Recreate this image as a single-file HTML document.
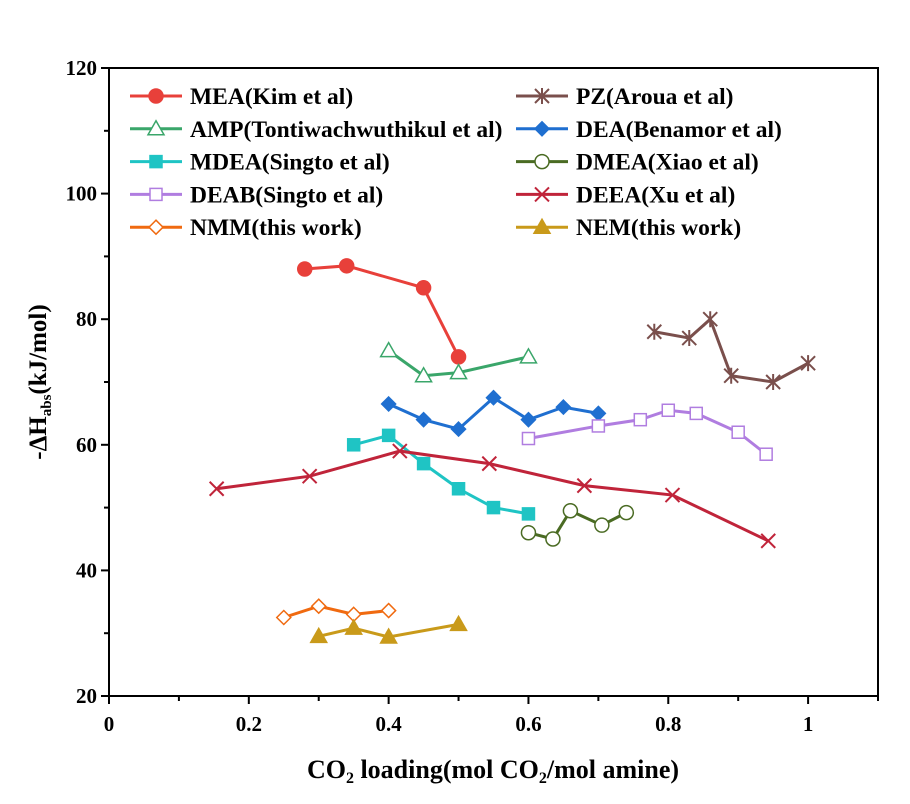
<!DOCTYPE html>
<html><head><meta charset="utf-8"><style>
body{margin:0;background:#fff}
svg text{font-family:"Liberation Serif",serif;font-weight:bold}
</style></head><body>
<svg id="c" width="910" height="799" xmlns="http://www.w3.org/2000/svg"></svg>
<script>
const xTicks=[0,0.2,0.4,0.6,0.8,1];
const xTickLabels=["0","0.2","0.4","0.6","0.8","1"];
const yTicks=[20,40,60,80,100,120];
const yTickLabels=["20","40","60","80","100","120"];
const seriesNames=["MEA(Kim et al)","PZ(Aroua et al)","AMP(Tontiwachwuthikul et al)","DEA(Benamor et al)","MDEA(Singto et al)","DMEA(Xiao et al)","DEAB(Singto et al)","DEEA(Xu et al)","NMM(this work)","NEM(this work)"];
const meaX=[0.28,0.34,0.45,0.5], meaY=[88,88.5,85,74];
const pzX=[0.78,0.83,0.86,0.89,0.95,1.0], pzY=[78,77,80,71,70,73];
const ampX=[0.4,0.45,0.5,0.6], ampY=[75,71,71.5,74];
const deaX=[0.4,0.45,0.5,0.55,0.6,0.65,0.7], deaY=[66.5,64,62.5,67.5,64,66,65];
const mdeaX=[0.35,0.4,0.45,0.5,0.55,0.6], mdeaY=[60,61.5,57,53,50,49];
const dmeaX=[0.6,0.635,0.66,0.705,0.74], dmeaY=[46,45,49.5,47.2,49.2];
const deabX=[0.6,0.7,0.76,0.8,0.84,0.9,0.94], deabY=[61,63,64,65.5,65,62,58.5];
const deeaX=[0.154,0.287,0.416,0.544,0.68,0.806,0.943], deeaY=[53,55,59,57,53.5,52,44.7];
const nmmX=[0.25,0.3,0.35,0.4], nmmY=[32.5,34.3,33,33.6];
const nemX=[0.3,0.35,0.4,0.5], nemY=[29.5,30.8,29.4,31.4];

const X0=109,X1=878,Y0=696,Y1=68;
const sx=v=>X0+v*(X1-X0)/1.1;
const sy=v=>Y0-(v-20)*(Y0-Y1)/100;
const svg=document.getElementById('c');
const NS="http://www.w3.org/2000/svg";
function mk(t,a,p){const e=document.createElementNS(NS,t);for(const k in a)e.setAttribute(k,a[k]);(p||svg).appendChild(e);return e;}

const frame=mk('rect',{x:X0,y:Y1,width:X1-X0,height:Y0-Y1,fill:'none',stroke:'#000','stroke-width':2});


for(let i=0;i<=11;i++){const v=i/10;const x=sx(v);const major=i%2==0;
 const t=mk('line',{x1:x,x2:x,y1:Y0,y2:Y0+(major?8:5),stroke:'#000','stroke-width':2});
 
 }
xTicks.forEach((v,i)=>{const t=mk('text',{x:sx(v),y:Y0+35,'text-anchor':'middle','font-size':21});t.textContent=xTickLabels[i];
 
 });
for(let v=20;v<=120;v+=10){const y=sy(v);const major=v%20==0;
 const t=mk('line',{x1:X0,x2:X0-(major?8:5),y1:y,y2:y,stroke:'#000','stroke-width':2});
 
 }
yTicks.forEach((v,i)=>{const t=mk('text',{x:X0-12,y:sy(v)+7,'text-anchor':'end','font-size':21});t.textContent=yTickLabels[i];
 
 });
const xt=mk('text',{x:493,y:778,'text-anchor':'middle','font-size':26});
xt.innerHTML='CO<tspan font-size="16" dy="5">2</tspan><tspan dy="-5"> loading(mol CO</tspan><tspan font-size="16" dy="5">2</tspan><tspan dy="-5">/mol amine)</tspan>';


const yt=mk('text',{transform:'translate(46,382) rotate(-90)','text-anchor':'middle','font-size':25});
yt.innerHTML='-ΔH<tspan font-size="15" dy="5">abs</tspan><tspan dy="-5">(kJ/mol)</tspan>';



const styles=[
 {c:'#e8403a',m:'circle',f:true},{c:'#7a4f4c',m:'star',f:false},{c:'#3aa66a',m:'tri',f:false},{c:'#1f6fd0',m:'diamond',f:true},
 {c:'#1fc4c4',m:'square',f:true},{c:'#4a6b23',m:'circle',f:false},{c:'#b07de0',m:'square',f:false},{c:'#c0243a',m:'x',f:false},
 {c:'#f06a10',m:'diamond',f:false},{c:'#c99a1a',m:'tri',f:true}];
const data=[[meaX,meaY],[pzX,pzY],[ampX,ampY],[deaX,deaY],[mdeaX,mdeaY],[dmeaX,dmeaY],[deabX,deabY],[deeaX,deeaY],[nmmX,nmmY],[nemX,nemY]];
function marker(g,s,x,y){const fill=s.f?s.c:'#fff';let e;
 if(s.m=='circle')e=mk('circle',{cx:x,cy:y,r:7,fill,stroke:s.c,'stroke-width':1.5},g);
 else if(s.m=='square')e=mk('rect',{x:x-6,y:y-6,width:12,height:12,fill,stroke:s.c,'stroke-width':1.5},g);
 else if(s.m=='diamond')e=mk('polygon',{points:`${x},${y-7} ${x+7},${y} ${x},${y+7} ${x-7},${y}`,fill,stroke:s.c,'stroke-width':1.5},g);
 else if(s.m=='tri')e=mk('polygon',{points:`${x},${y-8} ${x+8},${y+6} ${x-8},${y+6}`,fill,stroke:s.c,'stroke-width':1.5},g);
 else if(s.m=='x')e=mk('path',{d:`M${x-7} ${y-7}L${x+7} ${y+7}M${x-7} ${y+7}L${x+7} ${y-7}`,stroke:s.c,'stroke-width':2},g);
 else e=mk('path',{d:`M${x-7} ${y-7}L${x+7} ${y+7}M${x-7} ${y+7}L${x+7} ${y-7}M${x} ${y-8}L${x} ${y+8}`,stroke:s.c,'stroke-width':2},g);
 
 }
data.forEach((d,i)=>{const s=styles[i];const g=mk('g',{});
 
 
 const pts=d[0].map((x,j)=>sx(x)+','+sy(d[1][j])).join(' ');
 mk('polyline',{points:pts,fill:'none',stroke:s.c,'stroke-width':3},g);
 d[0].forEach((x,j)=>marker(g,s,sx(x),sy(d[1][j])));
 const col=i%2,row=Math.floor(i/2);const lx=col?516:130,ly=96+row*32.8;
 const lg=mk('g',{});
 
 
 mk('line',{x1:lx,x2:lx+52,y1:ly,y2:ly,stroke:s.c,'stroke-width':3},lg);
 marker(lg,s,lx+26,ly);
 const t=mk('text',{x:lx+60,y:ly+8,'font-size':23.5},lg);t.textContent=seriesNames[i];});
</script>
</body></html>
